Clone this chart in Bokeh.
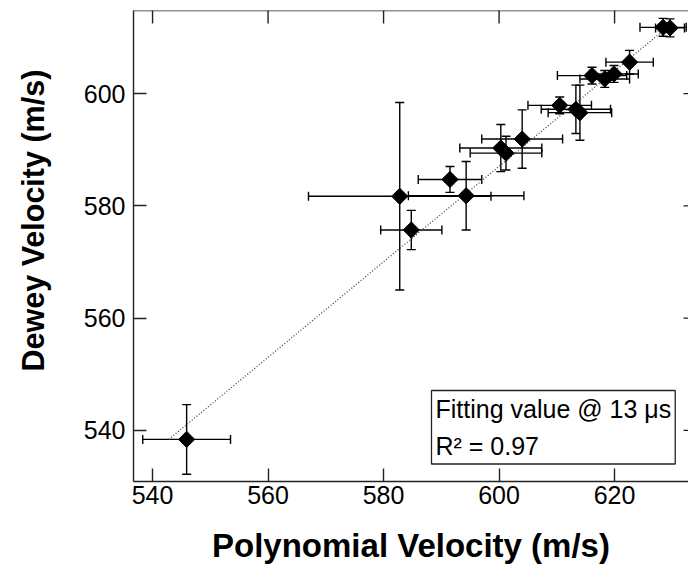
import math
from bokeh.plotting import figure
from bokeh.models import (ColumnDataSource, Whisker, TeeHead, FixedTicker, Label, Span)
from bokeh.embed import file_html
from bokeh.resources import INLINE

# ---- data ----
poly_v = [545.9, 582.8, 594.3, 584.8, 591.5, 600.3, 601.2, 604.0, 610.5,
          613.3, 614.0, 616.1, 618.3, 619.9, 622.6, 628.4, 629.6]
dewey_v = [538.4, 581.7, 581.8, 575.7, 584.7, 590.3, 589.4, 591.9, 597.9,
           597.2, 596.6, 603.2, 602.6, 603.5, 605.6, 611.8, 611.7]
poly_err = [7.6, 15.8, 10.0, 5.3, 5.5, 7.1, 6.2, 7.0, 5.5,
            6.0, 5.5, 6.0, 4.3, 4.2, 4.1, 4.0, 2.5]
dewey_err = [6.2, 16.7, 6.1, 3.5, 2.3, 4.2, 3.0, 5.2, 1.5,
             4.3, 4.9, 1.5, 1.5, 1.5, 2.1, 1.6, 1.6]

fit_x = [542.8, 629.0]
fit_y = [538.4, 611.7]

x_ticks = [540, 560, 580, 600, 620]
y_ticks = [540, 560, 580, 600]

x_title = "Polynomial Velocity (m/s)"
y_title = "Dewey Velocity (m/s)"
note_line1 = "Fitting value @ 13 \u03bcs"
note_line2 = "R\u00b2 = 0.97"

FONT = "Liberation Sans"
X0, X1 = 536.7, 632.8
Y0, Y1 = 530.9, 614.8

src = ColumnDataSource(dict(
    x=poly_v, y=dewey_v,
    xl=[a - e for a, e in zip(poly_v, poly_err)],
    xu=[a + e for a, e in zip(poly_v, poly_err)],
    yl=[a - e for a, e in zip(dewey_v, dewey_err)],
    yu=[a + e for a, e in zip(dewey_v, dewey_err)],
))

p = figure(width=688, height=575, x_range=(X0, X1), y_range=(Y0, Y1),
           output_backend="svg", toolbar_location=None,
           min_border_left=133, min_border_right=0, min_border_top=10,
           min_border_bottom=94)
p.outline_line_color = None
p.xgrid.visible = False
p.ygrid.visible = False
p.background_fill_color = "white"
p.border_fill_color = "white"

for ax, ticks in ((p.xaxis[0], x_ticks), (p.yaxis[0], y_ticks)):
    ax.ticker = FixedTicker(ticks=ticks)
    ax.minor_tick_line_color = None
    ax.major_tick_in = 13
    ax.major_tick_out = 0
    ax.major_tick_line_color = "#222222"
    ax.major_tick_line_width = 1.4
    ax.axis_line_color = "#222222"
    ax.axis_line_width = 1.4
    ax.major_label_text_font = FONT
    ax.major_label_text_font_size = "25px"
    ax.major_label_text_color = "black"

xa = p.xaxis[0]
xa.major_label_standoff = 4
xa.axis_label = x_title
xa.axis_label_text_font = FONT
xa.axis_label_text_font_size = "33px"
xa.axis_label_text_font_style = "bold"
xa.axis_label_text_color = "black"
xa.axis_label_standoff = 20

ya = p.yaxis[0]
ya.major_label_standoff = 8
ya.major_label_orientation = "horizontal"
# leading no-break spaces lift the title towards the top, as in the reference
ya.axis_label = "\u00a0" * 6 + y_title
ya.axis_label_text_font = FONT
ya.axis_label_text_font_size = "30.5px"
ya.axis_label_text_font_style = "bold"
ya.axis_label_text_color = "black"
ya.axis_label_standoff = 31

# top frame line and inward ticks on top / right
p.add_layout(Span(location=Y1, dimension="width", line_color="#222222", line_width=1.4))
p.scatter(x_ticks, [Y1] * len(x_ticks), marker="dash", angle=math.pi / 2, size=26,
          line_color="#222222", line_width=1.4)
p.scatter([X1] * len(y_ticks), y_ticks, marker="dash", size=10,
          line_color="#222222", line_width=1.4)

# fit line
p.line(fit_x, fit_y, line_color="#444444", line_width=1.3, line_dash="1 2")

# error bars
def head():
    return TeeHead(size=9, line_color="black", line_width=1.4)

p.add_layout(Whisker(source=src, base="x", lower="yl", upper="yu", dimension="height",
                     line_color="black", line_width=1.4,
                     lower_head=head(), upper_head=head()))
p.add_layout(Whisker(source=src, base="y", lower="xl", upper="xu", dimension="width",
                     line_color="black", line_width=1.4,
                     lower_head=head(), upper_head=head()))

# markers
p.scatter("x", "y", source=src, marker="square", angle=math.pi / 4, size=11.5,
          fill_color="black", line_color="black")

# note box
note = Label(x=298, y=91, x_units="screen", y_units="screen",
             text=note_line1 + "\n" + note_line2,
             text_font=FONT, text_font_size="25px", text_color="black",
             text_align="left", text_baseline="top", text_line_height=1.34,
             border_line_color="#222222", border_line_width=1.3,
             background_fill_color="white", padding=4)
p.add_layout(note)

open("out.html", "w").write(file_html(p, INLINE))
